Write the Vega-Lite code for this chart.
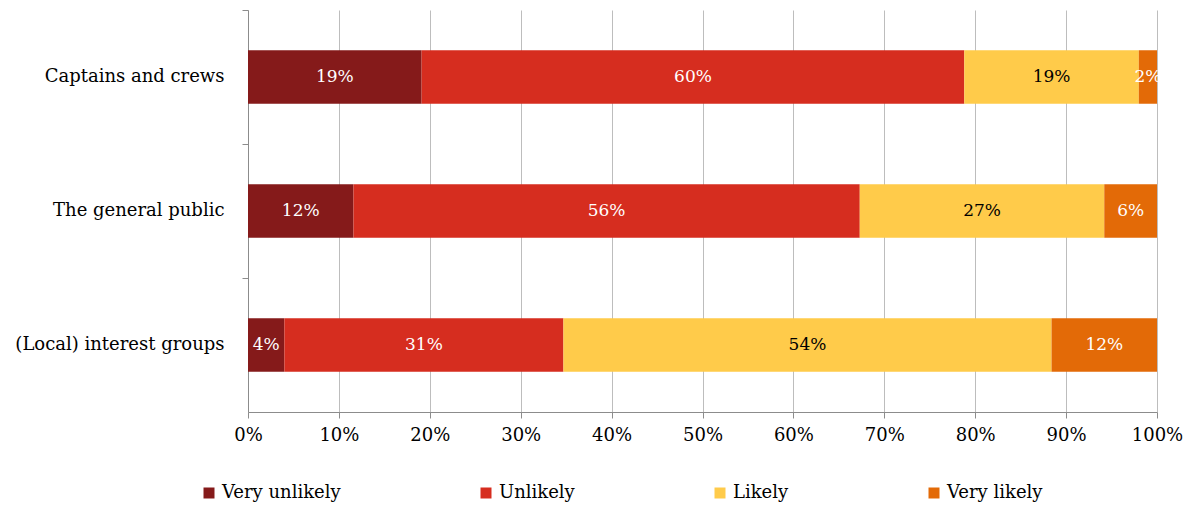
{
  "$schema": "https://vega.github.io/schema/vega-lite/v6.json",
  "width": 909,
  "height": 402,
  "autosize": {"type": "none"},
  "padding": {"left": 248, "top": 10, "right": 36, "bottom": 95},
  "background": "white",
  "config": {
    "font": "DejaVu Serif",
    "view": {"stroke": null},
    "axis": {"labelFont": "DejaVu Serif", "labelColor": "#000", "labelFontSize": 18, "domainColor": "#8c8c8c", "tickColor": "#8c8c8c", "titleFontSize": 17},
    "legend": {"labelFont": "DejaVu Serif"}
  },
  "data": {
    "values": [
      {"group": "Captains and crews", "cat": "Very unlikely", "idx": 1, "value": 0.191},
      {"group": "Captains and crews", "cat": "Unlikely", "idx": 2, "value": 0.597},
      {"group": "Captains and crews", "cat": "Likely", "idx": 3, "value": 0.192},
      {"group": "Captains and crews", "cat": "Very likely", "idx": 4, "value": 0.02},
      {"group": "The general public", "cat": "Very unlikely", "idx": 1, "value": 0.116},
      {"group": "The general public", "cat": "Unlikely", "idx": 2, "value": 0.557},
      {"group": "The general public", "cat": "Likely", "idx": 3, "value": 0.269},
      {"group": "The general public", "cat": "Very likely", "idx": 4, "value": 0.058},
      {"group": "(Local) interest groups", "cat": "Very unlikely", "idx": 1, "value": 0.04},
      {"group": "(Local) interest groups", "cat": "Unlikely", "idx": 2, "value": 0.307},
      {"group": "(Local) interest groups", "cat": "Likely", "idx": 3, "value": 0.537},
      {"group": "(Local) interest groups", "cat": "Very likely", "idx": 4, "value": 0.116}
    ]
  },
  "transform": [
    {"stack": "value", "groupby": ["group"], "sort": [{"field": "idx", "order": "ascending"}], "as": ["x0", "x1"]},
    {"calculate": "(datum.x0 + datum.x1) / 2", "as": "xm"}
  ],
  "layer": [
    {
      "mark": {"type": "bar"},
      "encoding": {
        "y": {
          "field": "group", "type": "nominal", "sort": null,
          "scale": {"paddingInner": 0.6, "paddingOuter": 0.3},
          "axis": {"title": null, "ticks": false, "domain": false, "labelPadding": 24, "labelLimit": 300}
        },
        "x": {
          "field": "x0", "type": "quantitative",
          "scale": {"domain": [0, 1], "nice": false},
          "axis": {"title": null, "values": [0, 0.1, 0.2, 0.3, 0.4, 0.5, 0.6, 0.7, 0.8, 0.9, 1], "format": ".0%", "grid": true, "gridColor": "#bdbdbd", "tickSize": 6, "labelPadding": 8, "labelFlush": false, "labelOverlap": false}
        },
        "x2": {"field": "x1"},
        "color": {
          "field": "cat", "type": "nominal",
          "scale": {"domain": ["Very unlikely", "Unlikely", "Likely", "Very likely"], "range": ["#851a1a", "#d62d1f", "#ffcb4a", "#e36a07"]},
          "legend": {"orient": "none", "legendX": -48, "legendY": 474, "direction": "horizontal", "columns": 4, "columnPadding": 136, "symbolType": "square", "symbolSize": 121, "symbolStrokeWidth": 0, "labelFontSize": 18, "labelColor": "#000", "labelOffset": 4, "title": null, "padding": 0}
        }
      }
    },
    {
      "mark": {"type": "text", "fontSize": 17, "font": "DejaVu Serif"},
      "encoding": {
        "y": {
          "field": "group", "type": "nominal", "sort": null,
          "axis": {"orient": "left", "title": null, "labels": false, "ticks": true, "tickSize": 6, "bandPosition": -0.75, "domain": true, "grid": false}
        },
        "x": {"field": "xm", "type": "quantitative"},
        "text": {"field": "value", "format": ".0%"},
        "color": {"condition": {"test": "datum.cat === 'Likely'", "value": "#000"}, "value": "#fff"}
      }
    }
  ],
  "resolve": {"axis": {"y": "independent"}}
}
